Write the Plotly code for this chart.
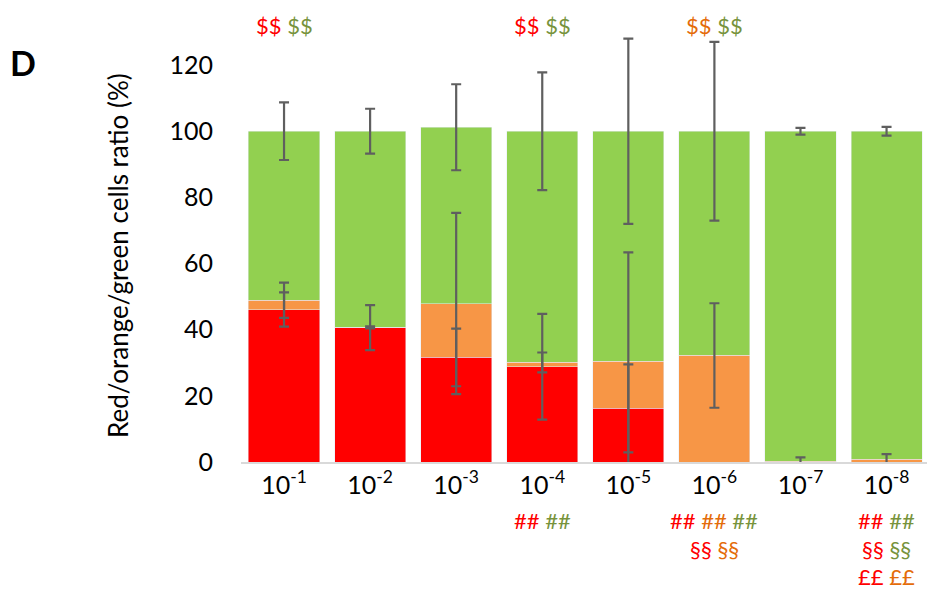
import plotly.graph_objects as go

categories = ["10<sup>-1</sup>", "10<sup>-2</sup>", "10<sup>-3</sup>", "10<sup>-4</sup>",
              "10<sup>-5</sup>", "10<sup>-6</sup>", "10<sup>-7</sup>", "10<sup>-8</sup>"]
red = [46.1, 40.6, 31.6, 28.8, 16.2, 0.0, 0.0, 0.0]
orange = [2.8, 0.1, 16.3, 1.3, 14.2, 32.2, 0.3, 0.8]
green = [51.1, 59.3, 53.3, 69.9, 69.6, 67.8, 99.7, 99.2]
red_err = [5.2, 6.8, 8.7, 16.0, 13.3, None, None, None]
orange_err = [5.3, 0.3, 27.4, 3.0, 33.0, 15.8, 1.1, 1.6]
green_err = [8.7, 6.8, 13.0, 17.8, 28.0, 27.0, 1.0, 1.3]

top_marks = ["<span style='color:#FF0000'>$$</span> <span style='color:#77933C'>$$</span>", "", "",
             "<span style='color:#FF0000'>$$</span> <span style='color:#77933C'>$$</span>", "",
             "<span style='color:#E46C0A'>$$</span> <span style='color:#77933C'>$$</span>", "", ""]
bottom_marks = [
    [], [], [],
    ["<span style='color:#FF0000'>##</span> <span style='color:#77933C'>##</span>"],
    [],
    ["<span style='color:#FF0000'>##</span> <span style='color:#E46C0A'>##</span> <span style='color:#77933C'>##</span>",
     "<span style='color:#FF0000'>§§</span> <span style='color:#E46C0A'>§§</span>"],
    [],
    ["<span style='color:#FF0000'>##</span> <span style='color:#77933C'>##</span>",
     "<span style='color:#FF0000'>§§</span> <span style='color:#77933C'>§§</span>",
     "<span style='color:#FF0000'>££</span> <span style='color:#E46C0A'>££</span>"],
]

FONT = "Lato, Open Sans, sans-serif"
x = list(range(len(categories)))

fig = go.Figure()
fig.add_bar(x=x, y=red, marker_color="#FF0000", name="red")
fig.add_bar(x=x, y=orange, marker_color="#F79646", name="orange")
fig.add_bar(x=x, y=green, marker_color="#92D050", name="green")

# error bars drawn on top of the stacked segments, at each segment's top
cum_red = red
cum_orange = [r + o for r, o in zip(red, orange)]
cum_green = [r + o + g for r, o, g in zip(red, orange, green)]
for tops, errs in [(cum_red, red_err), (cum_orange, orange_err), (cum_green, green_err)]:
    xs = [xi for xi, e in zip(x, errs) if e is not None]
    ys = [t for t, e in zip(tops, errs) if e is not None]
    es = [e for e in errs if e is not None]
    fig.add_scatter(x=xs, y=ys, mode="markers", marker=dict(size=0.1, color="rgba(0,0,0,0)"),
                    error_y=dict(type="data", array=es, visible=True, color="#5F5F5F",
                                 thickness=2.2, width=5),
                    hoverinfo="skip", cliponaxis=False)

annotations = []
for i, t in enumerate(top_marks):
    if t:
        annotations.append(dict(x=i, y=1.016, xref="x", yref="paper", text=t, showarrow=False,
                                font=dict(family=FONT, size=22), xanchor="center", yanchor="middle"))
rows_y = [-0.135, -0.202, -0.267]
for i, rows in enumerate(bottom_marks):
    for j, t in enumerate(rows):
        annotations.append(dict(x=i, y=rows_y[j], xref="x", yref="paper", text=t, showarrow=False,
                                font=dict(family=FONT, size=22), xanchor="center", yanchor="middle"))
annotations.append(dict(x=(118 - 241) / 686, y=0.479, xref="paper", yref="paper",
                        text="Red/orange/green cells ratio (%)", textangle=-90, showarrow=False,
                        font=dict(family=FONT, size=26, color="#000000"), xanchor="center", yanchor="middle"))
annotations.append(dict(x=(23 - 241) / 686, y=(462 - 62) / 430, xref="paper", yref="paper",
                        text="<b>D</b>", showarrow=False, xanchor="center", yanchor="middle",
                        font=dict(family=FONT, size=34, color="#000000")))

fig.update_layout(
    barmode="stack",
    bargap=0.174,
    width=927, height=590,
    margin=dict(l=241, r=0, t=32, b=128),
    plot_bgcolor="white", paper_bgcolor="white",
    showlegend=False,
    font=dict(family=FONT, size=25, color="#000000"),
    annotations=annotations,
    xaxis=dict(tickmode="array", tickvals=x, ticktext=categories, range=[-0.5, 7.47],
               showline=True, linecolor="#D9D9D9", linewidth=1.5, showgrid=False, ticks="",
               tickfont=dict(family=FONT, size=25)),
    yaxis=dict(range=[0, 130], tickvals=[0, 20, 40, 60, 80, 100, 120], showgrid=False,
               zeroline=False, showline=False, ticks="", ticklabelstandoff=27,
               tickfont=dict(family=FONT, size=25)),
)
fig.write_html("out.html")
